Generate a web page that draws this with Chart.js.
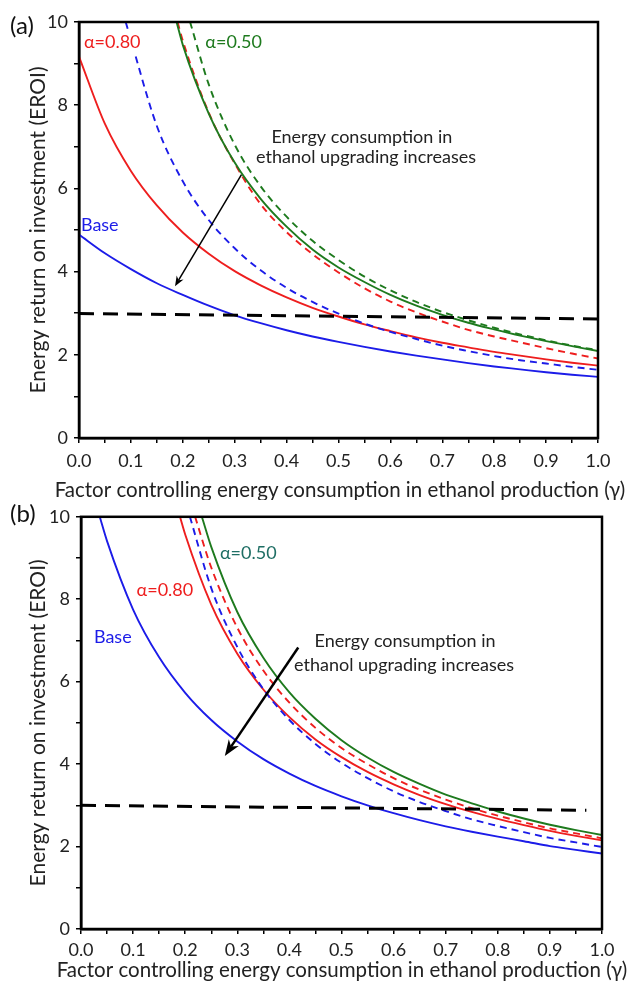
<!DOCTYPE html>
<html>
<head>
<meta charset="utf-8">
<script src="https://cdn.jsdelivr.net/npm/chart.js@4.4.1/dist/chart.umd.min.js"></script>
<style>
  html, body { margin: 0; padding: 0; background: #fff; }
  #wrap { position: relative; width: 628px; height: 983px; }
  .panel { position: absolute; left: 0; width: 628px; }
</style>
</head>
<body>
<div id="wrap">
  <div class="panel" style="top:0;height:500px"><canvas id="chartA" width="628" height="500"></canvas></div>
  <div class="panel" style="top:500px;height:483px"><canvas id="chartB" width="628" height="483"></canvas></div>
</div>
<script>
// gamma grid shared by most curves
const gammaFull = [0, 0.05, 0.1, 0.15, 0.2, 0.25, 0.3, 0.35, 0.4, 0.45, 0.5, 0.55, 0.6, 0.65, 0.7, 0.75, 0.8, 0.85, 0.9, 0.95, 1.0];
const gammaTail = [0.25, 0.3, 0.35, 0.4, 0.45, 0.5, 0.55, 0.6, 0.65, 0.7, 0.75, 0.8, 0.85, 0.9, 0.95, 1.0];

// panel (a)
const baseA      = [4.89, 4.44, 4.06, 3.72, 3.44, 3.18, 2.95, 2.76, 2.59, 2.44, 2.31, 2.19, 2.08, 1.98, 1.89, 1.80, 1.72, 1.65, 1.58, 1.52, 1.47];
const alpha80A   = [9.17, 7.55, 6.42, 5.59, 4.94, 4.43, 4.01, 3.67, 3.38, 3.13, 2.92, 2.73, 2.57, 2.42, 2.29, 2.18, 2.07, 1.98, 1.89, 1.81, 1.74];
const gammaBaseUpA = [0.09, 0.1, 0.15, 0.2, ...gammaTail];
const baseUpA    = [10, 9.57, 7.50, 6.17, 5.24, 4.56, 4.03, 3.61, 3.27, 2.99, 2.75, 2.55, 2.38, 2.22, 2.09, 1.97, 1.87, 1.79, 1.71, 1.64];
const gammaAlpha80UpA = [0.19, 0.2, ...gammaTail];
const alpha80UpA = [10, 9.55, 7.82, 6.6, 5.62, 4.95, 4.42, 3.98, 3.6, 3.28, 3.02, 2.8, 2.6, 2.44, 2.3, 2.16, 2.03, 1.91];
const gammaAlpha50A = [0.188, 0.2, ...gammaTail];
const alpha50A   = [10, 9.45, 7.8, 6.62, 5.75, 5.08, 4.53, 4.1, 3.75, 3.44, 3.18, 2.96, 2.77, 2.61, 2.46, 2.33, 2.21, 2.09];
const gammaAlpha50UpA = [0.214, ...gammaTail];
const alpha50UpA = [10, 8.5, 7.05, 6.05, 5.32, 4.74, 4.28, 3.88, 3.55, 3.27, 3.03, 2.83, 2.65, 2.49, 2.35, 2.22, 2.11];
const gammaLimitA = [0, 1.0];
const limitA     = [2.99, 2.86];

// panel (b)
const gammaBaseB = [0.036, ...gammaFull.slice(1)];
const baseB      = [10, 9.41, 7.75, 6.59, 5.73, 5.07, 4.55, 4.12, 3.77, 3.47, 3.22, 3.0, 2.81, 2.64, 2.49, 2.36, 2.24, 2.13, 2.01, 1.92, 1.83];
const gammaAlpha80B = [0.19, 0.2, ...gammaTail];
const alpha80B   = [10, 9.57, 7.87, 6.68, 5.81, 5.14, 4.60, 4.17, 3.81, 3.51, 3.25, 3.03, 2.84, 2.67, 2.52, 2.38, 2.26, 2.15];
const gammaBaseUpB = [0.209, ...gammaTail];
const baseUpB    = [10, 8.27, 6.84, 5.82, 5.07, 4.49, 4.03, 3.66, 3.34, 3.08, 2.86, 2.66, 2.50, 2.35, 2.21, 2.10, 1.99];
const gammaAlpha80UpB = [0.219, ...gammaTail];
const alpha80UpB = [10, 8.77, 7.31, 6.27, 5.49, 4.88, 4.39, 4.0, 3.66, 3.38, 3.14, 2.93, 2.75, 2.59, 2.44, 2.32, 2.2];
const gammaAlpha50B = [0.232, ...gammaTail];
const alpha50B   = [10, 9.27, 7.69, 6.58, 5.74, 5.10, 4.58, 4.16, 3.81, 3.52, 3.26, 3.05, 2.85, 2.68, 2.53, 2.40, 2.28];
const gammaLimitB = [0, 0.97];
const limitB     = [3.0, 2.88];

const BLUE = 'rgb(28,28,232)';
const RED = 'rgb(238,30,30)';
const GREEN = 'rgb(30,122,30)';
const TEAL = 'rgb(30,110,100)';
const FONT = 'Lato, "Open Sans", sans-serif';

function pts(xs, ys) {
    return xs.map((x, i) => ({ x: x, y: ys[i] }));
}

function curve(xs, ys, color, dashed) {
    return {
        data: pts(xs, ys),
        borderColor: color,
        borderWidth: 1.9,
        borderDash: dashed ? [7, 5] : [],
        pointRadius: 0,
        showLine: true,
        cubicInterpolationMode: 'monotone'
    };
}

function limitLine(xs, ys) {
    return {
        data: pts(xs, ys),
        borderColor: '#000',
        borderWidth: 3,
        borderDash: [15, 9],
        pointRadius: 0,
        showLine: true
    };
}

function drawArrow(ctx, x0, y0, x1, y1, w, headLen, headW) {
    const ang = Math.atan2(y1 - y0, x1 - x0);
    const c = Math.cos(ang), s = Math.sin(ang);
    ctx.lineWidth = w;
    ctx.beginPath();
    ctx.moveTo(x0, y0);
    ctx.lineTo(x1 - c * headLen * 0.7, y1 - s * headLen * 0.7);
    ctx.stroke();
    ctx.beginPath();
    ctx.moveTo(x1, y1);
    ctx.lineTo(x1 - c * headLen - s * headW, y1 - s * headLen + c * headW);
    ctx.lineTo(x1 - c * headLen * 0.7, y1 - s * headLen * 0.7);
    ctx.lineTo(x1 - c * headLen + s * headW, y1 - s * headLen - c * headW);
    ctx.closePath();
    ctx.fill();
}

// frame, axis titles, labels and arrow
const decor = {
    id: 'decor',
    afterDatasetsDraw(chart, args, opts) {
        const { ctx, chartArea: a, scales: { x, y } } = chart;
        ctx.save();
        ctx.strokeStyle = '#000';
        ctx.fillStyle = '#000';
        ctx.lineWidth = 2.5;
        ctx.strokeRect(a.left, a.top, a.right - a.left, a.bottom - a.top);

        ctx.textAlign = 'center';
        ctx.textBaseline = 'middle';
        opts.labels.forEach(l => {
            const px = x.getPixelForValue(l.x), py = y.getPixelForValue(l.y);
            ctx.font = (l.size || 18) + 'px ' + FONT;
            if (l.knockout) {
                // white box behind the label, like the original
                const w = ctx.measureText(l.text).width;
                ctx.fillStyle = '#fff';
                ctx.fillRect(px - w / 2 - 2, py - 11, w + 4, 22);
            }
            ctx.fillStyle = l.color || '#222';
            ctx.fillText(l.text, px, py);
        });

        const ar = opts.arrow;
        ctx.strokeStyle = '#000';
        ctx.fillStyle = '#000';
        drawArrow(ctx, x.getPixelForValue(ar.from[0]), y.getPixelForValue(ar.from[1]),
            x.getPixelForValue(ar.to[0]), y.getPixelForValue(ar.to[1]), ar.width, ar.head, ar.headW);

        // axis titles
        ctx.fillStyle = '#222';
        ctx.font = '20.5px ' + FONT;
        ctx.fillText('Factor controlling energy consumption in ethanol production (\u03b3)', opts.xTitle[0], opts.xTitle[1]);
        ctx.save();
        ctx.font = '21px ' + FONT;
        ctx.translate(opts.yTitleX, (a.top + a.bottom) / 2);
        ctx.rotate(-Math.PI / 2);
        ctx.fillText('Energy return on investment (EROI)', 0, 0);
        ctx.restore();

        ctx.font = '24px ' + FONT;
        ctx.textAlign = 'left';
        ctx.fillStyle = '#111';
        ctx.fillText(opts.panel, 10, opts.panelY);
        ctx.restore();
    }
};

function makeChart(id, datasets, dims, decorOpts) {
    return new Chart(document.getElementById(id), {
        type: 'scatter',
        data: { datasets: datasets },
        plugins: [decor],
        options: {
            responsive: false,
            animation: false,
            layout: { padding: { top: dims.top, right: dims.right, left: 0, bottom: 0 } },
            plugins: { legend: { display: false }, tooltip: { enabled: false }, decor: decorOpts },
            scales: {
                x: {
                    type: 'linear', min: 0, max: 1,
                    afterFit: s => { s.height = dims.xHeight; },
                    border: { color: '#000', width: 2.5 },
                    grid: { drawOnChartArea: false, color: '#000', lineWidth: 1.5, tickLength: 5 },
                    ticks: {
                        stepSize: 0.05, autoSkip: false, maxRotation: 0, padding: dims.xPad,
                        color: '#222', font: { family: FONT, size: 18 },
                        callback: v => {
                            const k = Math.round(v * 100);
                            return k % 10 === 0 ? (k / 100).toFixed(1) : '';
                        }
                    }
                },
                y: {
                    min: 0, max: 10,
                    afterFit: s => { s.width = dims.yWidth; },
                    border: { color: '#000', width: 2.5 },
                    grid: { drawOnChartArea: false, color: '#000', lineWidth: 1.5, tickLength: 5 },
                    ticks: {
                        stepSize: 1, padding: 6, color: '#222', font: { family: FONT, size: 18 },
                        callback: v => (Math.round(v) % 2 === 0 ? v : '')
                    }
                }
            }
        }
    });
}

makeChart('chartA', [
    limitLine(gammaLimitA, limitA),
    curve(gammaAlpha50UpA, alpha50UpA, GREEN, true),
    curve(gammaAlpha50A, alpha50A, GREEN, false),
    curve(gammaAlpha80UpA, alpha80UpA, RED, true),
    curve(gammaBaseUpA, baseUpA, BLUE, true),
    curve(gammaFull, alpha80A, RED, false),
    curve(gammaFull, baseA, BLUE, false)
], { top: 22, right: 30, xHeight: 62, yWidth: 79, xPad: 7 }, {
    panel: '(a)', panelY: 26,
    xTitle: [340, 490], yTitleX: 38,
    labels: [
        { text: '\u03b1=0.80', x: 0.064, y: 9.52, color: RED, knockout: true },
        { text: '\u03b1=0.50', x: 0.298, y: 9.52, color: GREEN },
        { text: 'Base', x: 0.04, y: 5.12, color: BLUE },
        { text: 'Energy consumption in', x: 0.545, y: 7.24 },
        { text: 'ethanol upgrading increases', x: 0.553, y: 6.75 }
    ],
    arrow: { from: [0.313, 6.33], to: [0.185, 3.65], width: 1.5, head: 10, headW: 4 }
});

makeChart('chartB', [
    limitLine(gammaLimitB, limitB),
    curve(gammaAlpha50B, alpha50B, GREEN, false),
    curve(gammaAlpha80UpB, alpha80UpB, RED, true),
    curve(gammaBaseUpB, baseUpB, BLUE, true),
    curve(gammaAlpha80B, alpha80B, RED, false),
    curve(gammaBaseB, baseB, BLUE, false)
], { top: 11, right: 26, xHeight: 54, yWidth: 81, xPad: 5 }, {
    panel: '(b)', panelY: 14,
    xTitle: [342, 470], yTitleX: 38,
    labels: [
        { text: '\u03b1=0.50', x: 0.321, y: 9.11, color: TEAL },
        { text: '\u03b1=0.80', x: 0.161, y: 8.23, color: RED },
        { text: 'Base', x: 0.061, y: 7.08, color: BLUE },
        { text: 'Energy consumption in', x: 0.622, y: 6.99 },
        { text: 'ethanol upgrading increases', x: 0.62, y: 6.39 }
    ],
    arrow: { from: [0.417, 6.83], to: [0.276, 4.2], width: 2.5, head: 16, headW: 6 }
});
</script>
</body>
</html>
